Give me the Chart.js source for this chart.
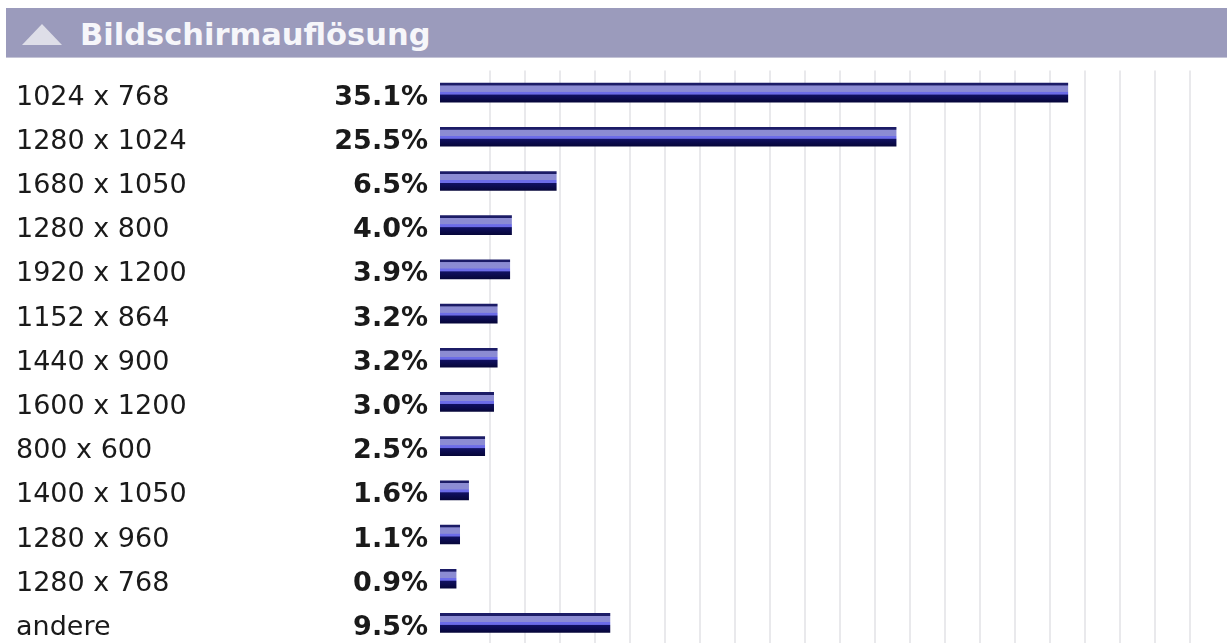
<!DOCTYPE html>
<html>
<head>
<meta charset="utf-8">
<script src="https://cdn.jsdelivr.net/npm/chart.js@4"></script>
<style>
  html, body { margin: 0; padding: 0; background: #fff; overflow: hidden; }
  #wrap { position: relative; width: 1227px; height: 643px; overflow: hidden; }
  #head {
    position: absolute; left: 6px; top: 8px; width: 1221px; height: 49px;
    background: #9b9bbc; border-bottom: 1px solid #c4c4d6;
  }
  #tri {
    position: absolute; left: 16px; top: 16px; width: 0; height: 0;
    border-left: 20px solid transparent; border-right: 20px solid transparent;
    border-bottom: 21px solid #dedee8;
  }
  #title {
    position: absolute; left: 74px; top: 9px;
    font: bold 30.5px "DejaVu Sans", Verdana, sans-serif; color: #f6f6fa;
  }
  #c { position: absolute; left: 0; top: 0; }
</style>
</head>
<body>
<div id="wrap">
  <canvas id="c" width="1227" height="645"></canvas>
  <div id="head"><div id="tri"></div><div id="title">Bildschirmauflösung</div></div>
</div>
<script>
var categories = ['1024 x 768', '1280 x 1024', '1680 x 1050', '1280 x 800', '1920 x 1200',
                  '1152 x 864', '1440 x 900', '1600 x 1200', '800 x 600', '1400 x 1050',
                  '1280 x 960', '1280 x 768', 'andere'];
var shares = [35.1, 25.5, 6.5, 4.0, 3.9, 3.2, 3.2, 3.0, 2.5, 1.6, 1.1, 0.9, 9.5];

var BAR_H = 19;

// each bar gets its own vertical gradient (dark top line, lilac band, dark bottom)
function barFill(ctx) {
    var chart = ctx.chart;
    var ys = chart.scales.y;
    if (!ys || ctx.dataIndex === undefined) return '#8c8cd2';
    var yc = ys.getPixelForValue(ctx.dataIndex);
    if (!isFinite(yc)) return '#8c8cd2';
    var g = chart.ctx.createLinearGradient(0, yc - BAR_H / 2, 0, yc + BAR_H / 2);
    g.addColorStop(0, '#1c1c66');
    g.addColorStop(0.11, '#1c1c66');
    g.addColorStop(0.14, '#8c8cd2');
    g.addColorStop(0.44, '#8c8cd4');
    g.addColorStop(0.47, '#6c6ce8');
    g.addColorStop(0.58, '#6c6ce8');
    g.addColorStop(0.63, '#101060');
    g.addColorStop(1, '#06063a');
    return g;
}

var pctLabels = {
    id: 'pctLabels',
    afterDraw: function(chart) {
        var c = chart.ctx, ys = chart.scales.y;
        c.save();
        c.font = 'bold 27px "DejaVu Sans", Verdana, sans-serif';
        c.fillStyle = '#1a1a1a';
        c.textAlign = 'right';
        c.textBaseline = 'middle';
        shares.forEach(function(v, i) {
            c.fillText(v.toFixed(1) + '%', chart.chartArea.left - 12, ys.getPixelForValue(i) + 5);
        });
        c.restore();
    }
};

new Chart(document.getElementById('c').getContext('2d'), {
    type: 'bar',
    data: {
        labels: categories,
        datasets: [{
            data: shares,
            backgroundColor: barFill,
            borderWidth: 0,
            barThickness: BAR_H
        }]
    },
    options: {
        indexAxis: 'y',
        responsive: false,
        animation: false,
        layout: { padding: { left: 16, top: 70.5, right: 0, bottom: 0 } },
        plugins: { legend: { display: false }, tooltip: { enabled: false } },
        scales: {
            x: { display: false, min: 0, max: 44 },
            xg: {
                type: 'linear', position: 'bottom', axis: 'x',
                min: -15 / 35, max: 772 / 35,
                ticks: { display: false, stepSize: 1 },
                border: { display: false },
                grid: {
                    drawTicks: false, lineWidth: 2,
                    color: function(ctx) {
                        return Number.isInteger(ctx.tick && ctx.tick.value) ? '#e9e9ec' : 'rgba(0,0,0,0)';
                    }
                },
                afterFit: function(scale) { scale.height = 0; }
            },
            y: {
                type: 'category',
                grid: { display: false },
                border: { display: false },
                ticks: {
                    crossAlign: 'far',
                    labelOffset: 5,
                    color: '#1a1a1a',
                    font: { family: '"DejaVu Sans", Verdana, sans-serif', size: 27 }
                },
                afterFit: function(scale) {
                    scale.width = 424;
                    scale.paddingTop = 0;
                    scale.paddingBottom = 0;
                }
            }
        }
    },
    plugins: [pctLabels]
});
</script>
</body>
</html>
